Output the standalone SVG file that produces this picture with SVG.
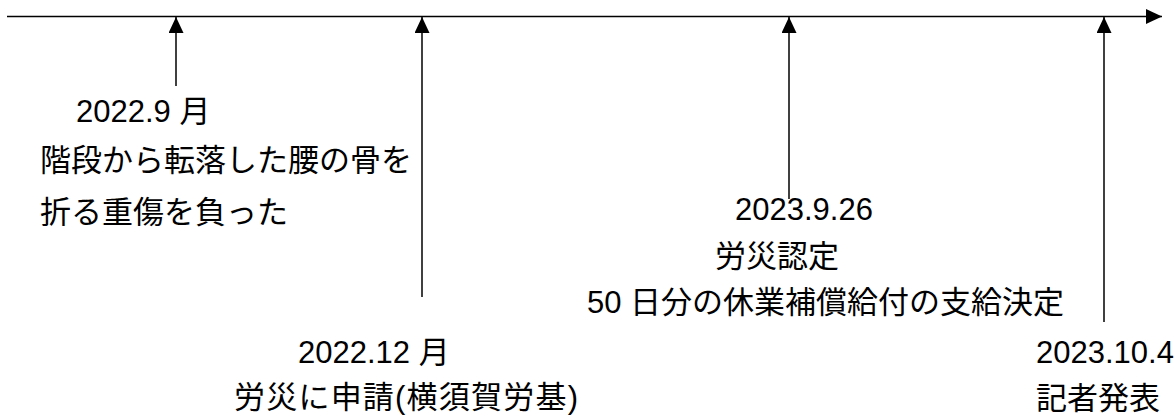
<svg xmlns="http://www.w3.org/2000/svg" width="1176" height="416" viewBox="0 0 1176 416">
<style>
.t{font-family:"Liberation Sans","Noto Sans CJK JP",sans-serif;font-size:31px;fill:#000}
.ln{stroke:#000;stroke-width:1.5;fill:none}
</style>
<defs>
<marker id="ah" markerUnits="userSpaceOnUse" markerWidth="16" markerHeight="15" refX="16" refY="7.5" orient="auto" viewBox="0 0 16 15">
<path d="M0,0 L16,7.5 L0,15 z" fill="#000"/>
</marker>
</defs>
<g id="connectors">
<line class="ln" x1="7" y1="16.5" x2="1162" y2="16.5" marker-end="url(#ah)"/>
<line class="ln" x1="176" y1="86" x2="176" y2="17" marker-end="url(#ah)"/>
<line class="ln" x1="422" y1="297" x2="422" y2="17" marker-end="url(#ah)"/>
<line class="ln" x1="789" y1="199" x2="789" y2="17" marker-end="url(#ah)"/>
<line class="ln" x1="1104" y1="322" x2="1104" y2="17" marker-end="url(#ah)"/>
</g>
<g id="event-2022-09">
<text class="t" x="76" y="122">2022.9 月</text>
<text class="t" x="40" y="171">階段から転落した腰の骨を</text>
<text class="t" x="40" y="223">折る重傷を負った</text>
</g>
<g id="event-2022-12">
<text class="t" x="298" y="363">2022.12 月</text>
<text class="t" x="234" y="408" textLength="344" lengthAdjust="spacing">労災に申請(横須賀労基)</text>
</g>
<g id="event-2023-09-26">
<text class="t" x="735" y="220">2023.9.26</text>
<text class="t" x="715" y="267">労災認定</text>
<text class="t" x="587" y="313">50 日分の休業補償給付の支給決定</text>
</g>
<g id="event-2023-10-04">
<text class="t" x="1036" y="363">2023.10.4</text>
<text class="t" x="1036" y="409">記者発表</text>
</g>
</svg>
